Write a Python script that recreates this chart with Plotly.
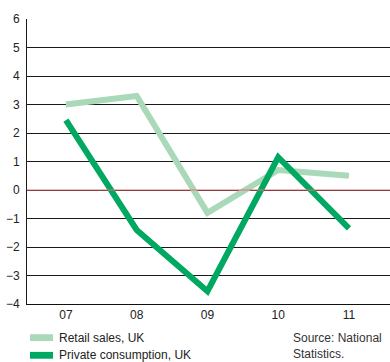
import plotly.graph_objects as go

# Annual % change, UK
years = ["07", "08", "09", "10", "11"]
retail_sales = [3.0, 3.3, -0.8, 0.7, 0.5]
private_consumption = [2.45, -1.4, -3.55, 1.15, -1.35]
y_ticks = [-4, -3, -2, -1, 0, 1, 2, 3, 4, 5, 6]

series_names = ["Retail sales, UK", "Private consumption, UK"]
series_colors = ["#a9d9b8", "#00a862"]
source_text = "Source: National<br>Statistics."

FONT = "Liberation Sans, Arial, sans-serif"
idx = list(range(len(years)))

fig = go.Figure()
for name, vals, col in zip(series_names, [retail_sales, private_consumption], series_colors):
    fig.add_trace(go.Scatter(x=idx, y=vals, mode="lines", name=name,
                             line=dict(color=col, width=6), showlegend=False))

# zero line
fig.add_shape(type="line", xref="paper", x0=0, x1=1, yref="y", y0=0, y1=0,
              line=dict(color="#ea6f6f", width=1))

# legend drawn below the axis
leg_y = [-0.118, -0.18]
for yy, name, col in zip(leg_y, series_names, series_colors):
    fig.add_shape(type="rect", xref="paper", yref="paper",
                  x0=(30 - 27) / 363, x1=(53 - 27) / 363,
                  y0=yy - 0.012, y1=yy + 0.012, fillcolor=col, line_width=0)
    fig.add_annotation(xref="paper", yref="paper", x=(57 - 27) / 363, y=yy,
                       text=name, showarrow=False, xanchor="left", yanchor="middle",
                       font=dict(family=FONT, size=12, color="#222"))

fig.add_annotation(xref="paper", yref="paper", x=(291 - 27) / 363, y=-0.088,
                   text=source_text, showarrow=False, xanchor="left", yanchor="top",
                   align="left", font=dict(family=FONT, size=12, color="#333"))

fig.update_layout(
    width=390, height=362,
    margin=dict(l=27, r=0, t=19, b=58),
    paper_bgcolor="white", plot_bgcolor="white",
    font=dict(family=FONT, size=12, color="#222"),
    xaxis=dict(range=[-0.55, 4.58], tickvals=idx, ticktext=years,
               showgrid=False, zeroline=False, showline=True,
               linecolor="#111", linewidth=1, ticks="", fixedrange=True),
    yaxis=dict(range=[-4, 6], tickvals=y_ticks, showgrid=True,
               gridcolor="#1a1a1a", gridwidth=1, zeroline=False,
               showline=True, linecolor="#1a1a1a", linewidth=1, ticks="",
               ticklabelstandoff=4),
)

fig.write_html("out.html")
